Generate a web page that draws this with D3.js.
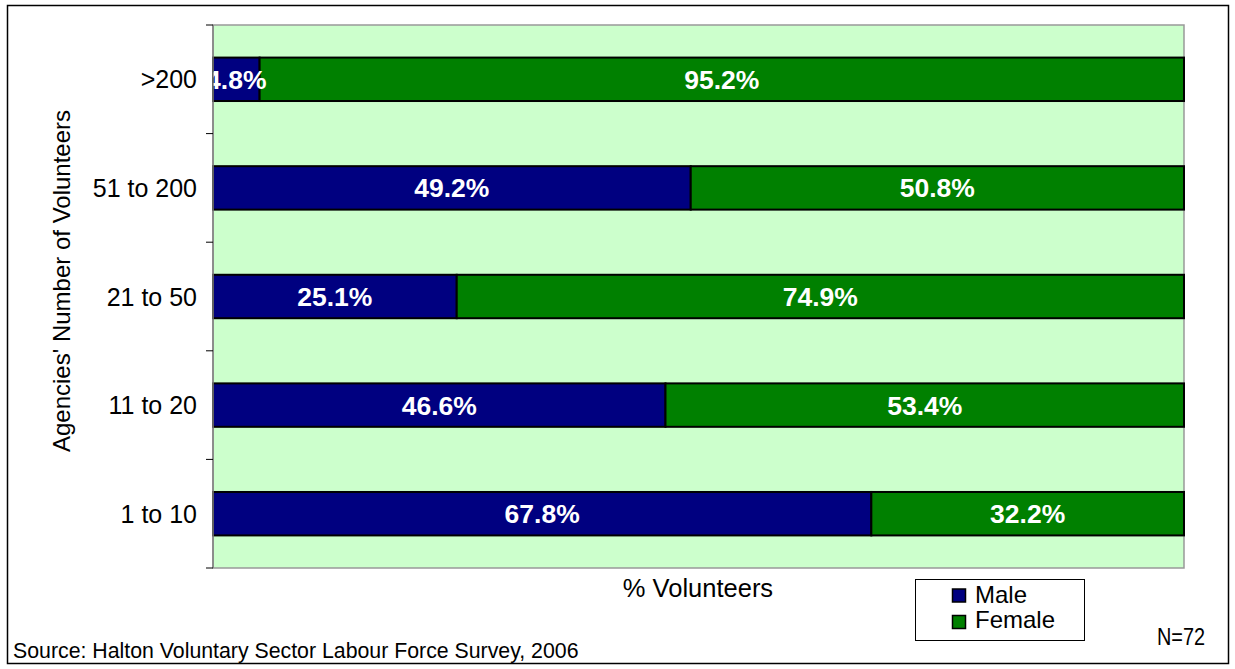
<!DOCTYPE html>
<html>
<head>
<meta charset="utf-8">
<script src="https://cdn.jsdelivr.net/npm/d3@7"></script>
<style>
  html, body { margin: 0; padding: 0; background: #fff; }
  svg { display: block; font-family: "Liberation Sans", Arial, sans-serif; }
</style>
</head>
<body>
<svg id="chart" width="1235" height="669"></svg>
<script>
// Volunteer gender split by agency size (percent of volunteers)
const categories = ["1 to 10", "11 to 20", "21 to 50", "51 to 200", ">200"];
const male   = [67.8, 46.6, 25.1, 49.2, 4.8];
const female = [32.2, 53.4, 74.9, 50.8, 95.2];
const seriesNames = ["Male", "Female"];
const seriesColors = ["#000080", "#008000"];

const svg = d3.select("#chart");

// Outer frame
svg.append("rect")
  .attr("x", 7.5).attr("y", 5.5).attr("width", 1221).attr("height", 658)
  .attr("fill", "#fff").attr("stroke", "#000").attr("stroke-width", 1.5);

const plot = { left: 213, top: 25, right: 1184, bottom: 568 };

const x = d3.scaleLinear().domain([0, 100]).range([plot.left, plot.right]);
const y = d3.scaleBand()
  .domain(categories.slice().reverse())
  .range([plot.top, plot.bottom])
  .paddingInner(0.6).paddingOuter(0.3);

// Plot area background
svg.append("rect")
  .attr("x", plot.left).attr("y", plot.top)
  .attr("width", plot.right - plot.left).attr("height", plot.bottom - plot.top)
  .attr("fill", "#CCFFCC").attr("stroke", "#999").attr("stroke-width", 1.5);

svg.append("defs").append("clipPath").attr("id", "plotClip")
  .append("rect")
  .attr("x", plot.left).attr("y", plot.top)
  .attr("width", plot.right - plot.left).attr("height", plot.bottom - plot.top);

// Stack data
const rows = categories.map((c, i) => ({ cat: c, Male: male[i], Female: female[i] }));
const stacked = d3.stack().keys(seriesNames)(rows);

const barsG = svg.append("g");
stacked.forEach((layer, si) => {
  barsG.selectAll(null)
    .data(layer)
    .enter().append("rect")
    .attr("x", d => x(d[0]))
    .attr("y", d => y(d.data.cat))
    .attr("width", d => x(d[1]) - x(d[0]))
    .attr("height", y.bandwidth())
    .attr("fill", seriesColors[si])
    .attr("stroke", "#000").attr("stroke-width", 2);
});

// Value labels
const labelsG = svg.append("g").attr("clip-path", "url(#plotClip)");
stacked.forEach((layer) => {
  labelsG.selectAll(null)
    .data(layer)
    .enter().append("text")
    .attr("x", d => (x(d[0]) + x(d[1])) / 2)
    .attr("y", d => y(d.data.cat) + y.bandwidth() / 2)
    .attr("dy", "0.36em")
    .attr("text-anchor", "middle")
    .attr("fill", "#fff")
    .attr("font-weight", "bold")
    .attr("font-size", 26.5)
    .text(d => (d[1] - d[0]).toFixed(1) + "%");
});

// Y axis with ticks at category boundaries
const bounds = d3.range(categories.length + 1).map(i => plot.top + i * (plot.bottom - plot.top) / categories.length);
svg.append("line")
  .attr("x1", plot.left).attr("x2", plot.left)
  .attr("y1", plot.top).attr("y2", plot.bottom)
  .attr("stroke", "#808080").attr("stroke-width", 1.5);
svg.selectAll(".ytick").data(bounds).enter().append("line")
  .attr("x1", plot.left - 7).attr("x2", plot.left)
  .attr("y1", d => d).attr("y2", d => d)
  .attr("stroke", "#000").attr("stroke-width", 1);

svg.selectAll(".ylab").data(categories).enter().append("text")
  .attr("x", 197)
  .attr("y", d => y(d) + y.bandwidth() / 2)
  .attr("dy", "0.36em")
  .attr("text-anchor", "end")
  .attr("font-size", 25)
  .attr("fill", "#000")
  .text(d => d);

// Axis titles
svg.append("text")
  .attr("transform", "translate(70, 281) rotate(-90)")
  .attr("text-anchor", "middle")
  .attr("font-size", 24)
  .text("Agencies' Number of Volunteers");

svg.append("text")
  .attr("x", 698).attr("y", 597)
  .attr("text-anchor", "middle")
  .attr("font-size", 25.5)
  .text("% Volunteers");

// Legend
const lg = svg.append("g");
lg.append("rect")
  .attr("x", 915.5).attr("y", 579.5).attr("width", 169).attr("height", 61)
  .attr("fill", "#fff").attr("stroke", "#000").attr("stroke-width", 1);
seriesNames.forEach((s, i) => {
  lg.append("rect")
    .attr("x", 952.5).attr("y", 589 + i * 26.5).attr("width", 13).attr("height", 13)
    .attr("fill", seriesColors[i]).attr("stroke", "#000").attr("stroke-width", 1.5);
  lg.append("text")
    .attr("x", 975).attr("y", 603 + i * 25)
    .attr("font-size", 24)
    .text(s);
});

// Footnotes
svg.append("text")
  .attr("x", 13).attr("y", 658)
  .attr("font-size", 21.3)
  .text("Source: Halton Voluntary Sector Labour Force Survey, 2006");

svg.append("text")
  .attr("x", 1157).attr("y", 645)
  .attr("font-size", 23)
  .attr("textLength", 48)
  .attr("lengthAdjust", "spacingAndGlyphs")
  .text("N=72");
</script>
</body>
</html>
